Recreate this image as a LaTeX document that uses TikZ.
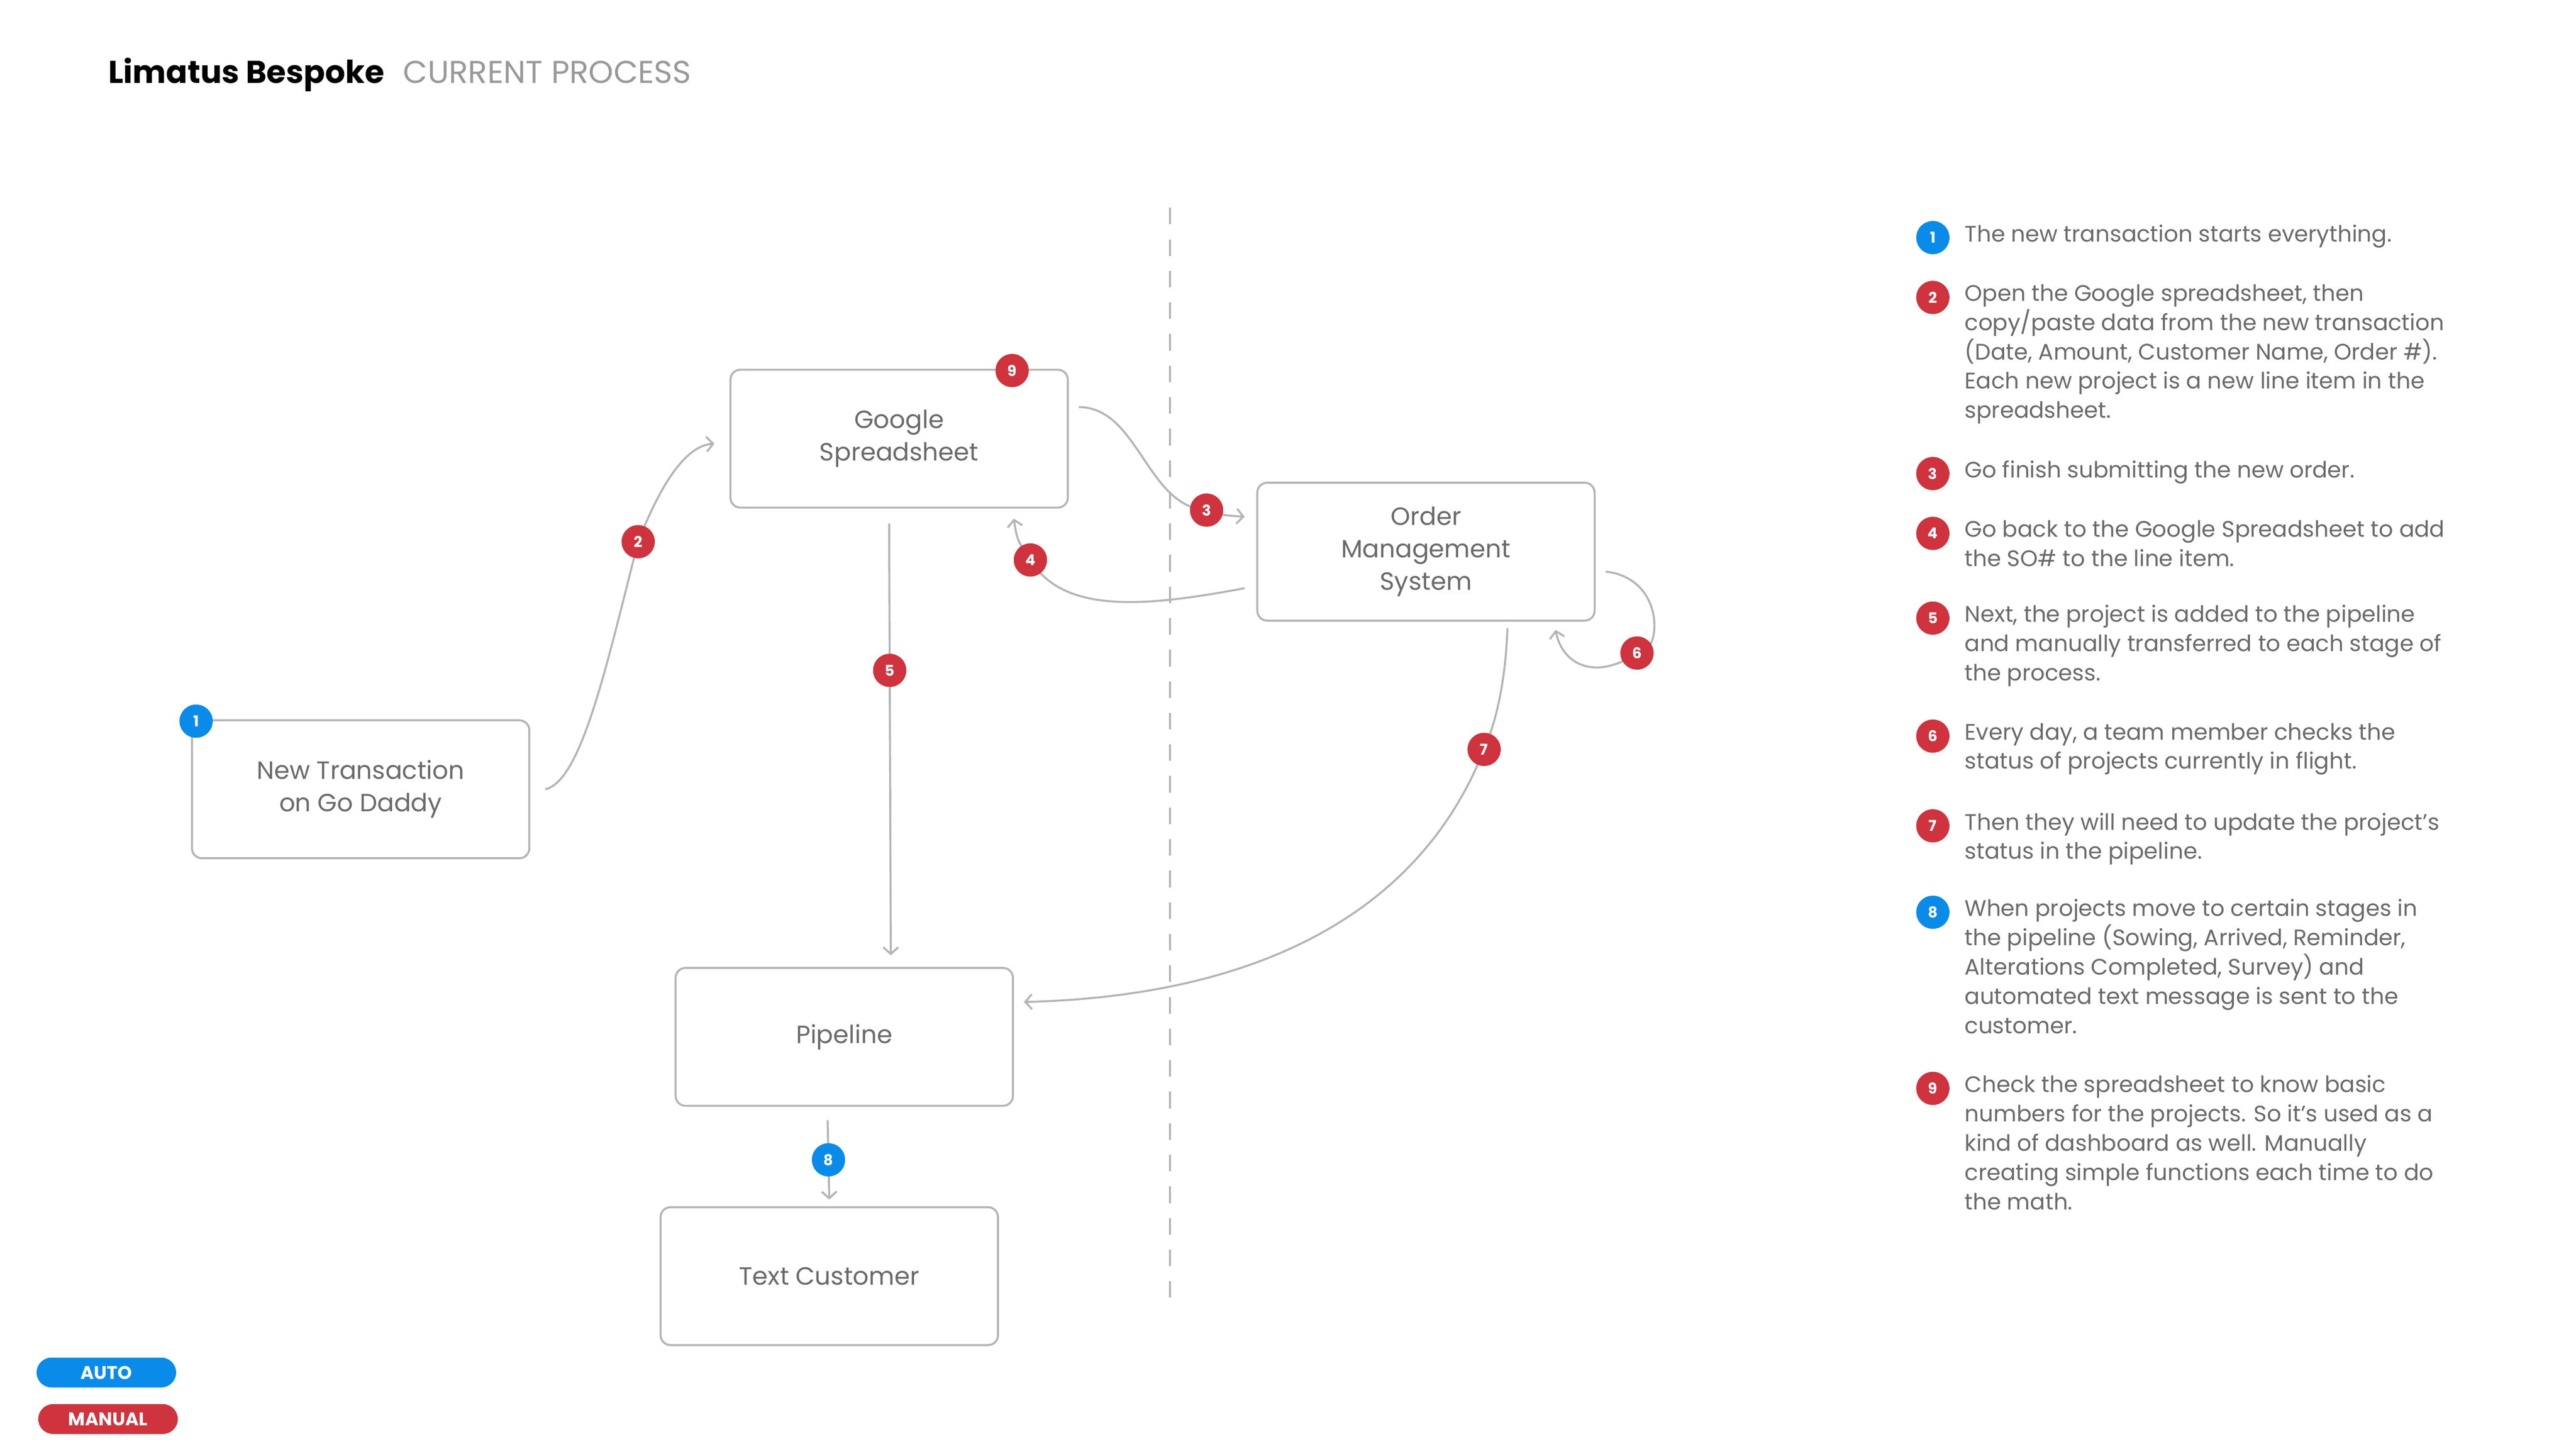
\documentclass[tikz,border=0pt]{standalone}
\usepackage{fontspec}
\setmainfont{Poppins}
\usetikzlibrary{arrows.meta,calc}
\definecolor{manual}{HTML}{CF333D}
\definecolor{auto}{HTML}{0A8BEA}
\definecolor{wire}{HTML}{B4B4B4}
\definecolor{ink}{HTML}{6A6A6A}
\tikzset{
  box/.style={draw=wire,line width=1.2pt,rounded corners=6pt,minimum width=203pt,minimum height=83pt,
    align=center,text=ink,font=\fontsize{15}{19.5}\selectfont,inner sep=0pt},
  flow/.style={draw=wire,line width=1.2pt,-{Straight Barb[length=4pt,width=9pt]}},
  badge/.style={circle,fill=#1,text=white,minimum size=20pt,inner sep=0pt,font=\fontsize{9}{9}\bfseries\selectfont},
  pill/.style={rounded corners=9pt,fill=#1,text=white,minimum width=84pt,minimum height=18pt,inner sep=0pt,
    font=\fontsize{11}{11}\bfseries\selectfont},
  note/.style={anchor=north west,align=left,text=ink,inner sep=0pt,font=\fontsize{13.5}{17.6}\selectfont},
}
\begin{document}
\begin{tikzpicture}[x=1pt,y=-1pt]
\useasboundingbox (0,0) rectangle (1550,872);
%% title
\node (title) [anchor=base west,inner sep=0pt,font=\fontsize{19}{19}\selectfont] at (65,50)
  {\textbf{Limatus Bespoke}\,\, \textcolor{black!40}{CURRENT PROCESS}};
\draw [wire,line width=1pt,dash pattern=on 10pt off 9pt] (704,125) -- (704,790);
%% boxes
\node (gs)  [box] at (541,264) {Google\\Spreadsheet};
\node (oms) [box] at (858,332) {Order\\Management\\System};
\node (nt)  [box] at (217,475) {New Transaction\\on Go Daddy};
\node (pl)  [box] at (508,624) {Pipeline};
\node (tc)  [box] at (499,768) {Text Customer};
%% connectors
\coordinate (b2) at (384,326);
\coordinate (b3) at (726,307);
\coordinate (b4) at (620,337);
\coordinate (b6) at (985,393);
\coordinate (b7) at (893,451);
\draw [flow] ($(nt.east)+(9,0)$) .. controls (350,470) and (365,400) .. (b2)
  .. controls (400,285) and (415,268) .. ($(gs.west)+(-9,3)$);
\draw [flow] ($(gs.east)+(6,-19)$) .. controls (685,245) and (690,305) .. (b3)
  .. controls (735,310) .. ($(oms.west)+(-7,-21)$);
\draw [flow] ($(oms.west)+(-7,22)$) .. controls (690,365) and (640,370) .. (b4)
  .. controls (612,325) .. ($(gs.south)+(69,6)$);
\draw [flow] ($(gs.south)+(-6,9)$) -- node [badge=manual,pos=0.34] (n5) {5} ($(pl.north)+(28,-7)$);
\draw [flow] ($(oms.east)+(6,12)$) .. controls (1003,348) and (1000,395) .. (b6)
  .. controls (960,410) and (940,400) .. ($(oms.south)+(78,5)$);
\draw [flow] ($(oms.south)+(49,4)$) .. controls (906,410) and (900,435) .. (b7)
  .. controls (850,560) and (740,600) .. ($(pl.east)+(6,-21)$);
\draw [flow] ($(pl.south)+(-10,8)$) -- node [badge=auto] (n8) {8} ($(tc.north)+(0,-4)$);
%% badges
\node [badge=auto] (n1) at (118,434) {1};
\node [badge=manual] (n2) at (b2) {2};
\node [badge=manual] (n3) at (b3) {3};
\node [badge=manual] (n4) at (b4) {4};
\node [badge=manual] (n6) at (b6) {6};
\node [badge=manual] (n7) at (b7) {7};
\node [badge=manual] (n9) at (609,223) {9};
%% legend
\node (auto)   [pill=auto]   at (64,826) {AUTO};
\node (manual) [pill=manual] at (65,854) {MANUAL};
%% notes
\foreach \num/\col/\y/\txt in {
  1/auto/143/{The new transaction starts everything.},
  2/manual/179/{Open the Google spreadsheet, then\\copy/paste data from the new transaction\\(Date, Amount, Customer Name, Order \#).\\Each new project is a new line item in the\\spreadsheet.},
  3/manual/285/{Go finish submitting the new order.},
  4/manual/321/{Go back to the Google Spreadsheet to add\\the SO\# to the line item.},
  5/manual/372/{Next, the project is added to the pipeline\\and manually transferred to each stage of\\the process.},
  6/manual/443/{Every day, a team member checks the\\status of projects currently in flight.},
  7/manual/497/{Then they will need to update the project's\\status in the pipeline.},
  8/auto/549/{When projects move to certain stages in\\the pipeline (Sowing, Arrived, Reminder,\\Alterations Completed, Survey) and\\automated text message is sent to the\\customer.},
  9/manual/655/{Check the spreadsheet to know basic\\numbers for the projects. So it's used as a\\kind of dashboard as well. Manually\\creating simple functions each time to do\\the math.}}
{
  \node [badge=\col] (k\num) at (1163,\y) {\num};
  \node [note] (t\num) at (1182,\y-8) {\txt};
}
\end{tikzpicture}
\end{document}
